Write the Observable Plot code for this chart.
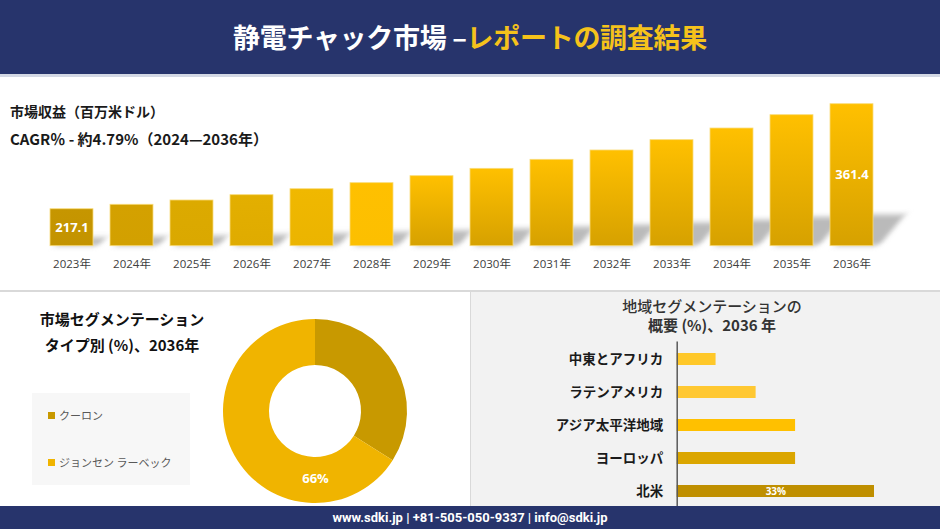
<!DOCTYPE html>
<html><head><meta charset="utf-8">
<script src="https://cdn.jsdelivr.net/npm/d3@7"></script>
<script src="https://cdn.jsdelivr.net/npm/@observablehq/plot@0.6"></script>
<style>
body{margin:0;background:#fff;}
#root{position:relative;width:940px;height:529px;overflow:hidden;font-family:'Noto Sans CJK JP','Noto Sans',sans-serif;background:#fff;}
.abs{position:absolute;}
#header{left:0;top:0;width:940px;height:74px;background:#27346c;border-bottom:3px solid #d3d8e4;}
#title{left:0;top:0;width:940px;height:74px;line-height:74px;text-align:center;font-size:27px;font-weight:700;color:#fff;letter-spacing:-0.3px;}
#title .y{color:#f5c21b;}
.t1{left:10px;top:100px;font-size:14px;font-weight:700;color:#1a1a1a;line-height:22px;white-space:nowrap;}
.t2{left:10px;top:128px;font-size:15px;font-weight:600;color:#1a1a1a;line-height:22px;white-space:nowrap;}
#divider{left:0;top:290px;width:940px;height:2px;background:#d9d9d9;}
#rpanel{left:470px;top:292px;width:470px;height:214px;background:#f2f2f2;border-left:1px solid #d9d9d9;}
.lt{left:0;width:244px;text-align:center;font-size:15px;font-weight:700;color:#111;line-height:22px;white-space:nowrap;}
#legend{left:32px;top:393px;width:158px;height:92px;background:#f7f7f7;}
.li{position:absolute;left:16px;font-size:11px;color:#595959;white-space:nowrap;line-height:14px;}
.li span.sw{display:inline-block;width:7px;height:7px;margin-right:4px;vertical-align:1px;}
.rt{left:470px;width:484px;text-align:center;font-size:15px;color:#333;line-height:20px;white-space:nowrap;}
#footer{left:0;top:506px;width:940px;height:23px;background:#27346c;color:#fff;text-align:center;font-family:'Liberation Sans Narrow','Roboto',sans-serif;font-weight:700;font-size:13px;line-height:23px;}
</style></head>
<body>
<div id="root">
  <div id="header" class="abs"></div>
  <div id="title" class="abs">静電チャック市場 –<span class="y">レポートの調査結果</span></div>
  <div class="abs t1">市場収益（百万米ドル）</div>
  <div class="abs t2">CAGR％ - 約4.79%（2024—2036年）</div>
  <div id="topchart" class="abs" style="left:0;top:80px;"></div>
  <div id="divider" class="abs"></div>
  <div id="rpanel" class="abs"></div>
  <div class="abs lt" style="top:308px;">市場セグメンテーション</div>
  <div class="abs lt" style="top:334px;">タイプ別 (%)、2036年</div>
  <div id="legend" class="abs"></div>
  <div id="donut" class="abs" style="left:215px;top:311px;"></div>
  <div class="abs rt" style="top:296px;font-weight:500;">地域セグメンテーションの</div>
  <div class="abs rt" style="top:315px;font-weight:700;">概要 (%)、2036 年</div>
  <div id="regionchart" class="abs" style="left:470px;top:335px;"></div>
  <div id="footer" class="abs">www.sdki.jp | +81-505-050-9337 | info@sdki.jp</div>
</div>
<script>
// ---- Data ----
const years = ["2023","2024","2025","2026","2027","2028","2029","2030","2031","2032","2033","2034","2035","2036"];
const revenue = [217.1,223.2,229.1,236.4,244.6,252.9,262.5,272.6,285.0,297.8,312.0,328.0,346.3,361.4];
const revenueLabels = ["217.1","","","","","","","","","","","","","361.4"];
const axisMin = 166.3;
const barTopColors = ["#c69600","#d4a100","#dcaa00","#e3af00","#f0b800","#ffc000","#ffc000","#ffc000","#ffc000","#ffc000","#ffc000","#ffc000","#ffc000","#ffc000"];
const barBottomColors = ["#c39300","#d2a000","#daa800","#dfab00","#ebb400","#fcbf00","#d6a100","#d6a100","#d6a100","#d6a100","#d6a100","#d6a100","#d6a100","#d6a100"];

const types = ["クーロン","ジョンセン ラーベック"];
const typeShare = [34, 66];
const typeColors = ["#c89900","#f0b400"];
const typeLabels = ["", "66%"];

const regions = ["中東とアフリカ","ラテンアメリカ","アジア太平洋地域","ヨーロッパ","北米"];
const regionShare = [6.5, 13.2, 19.8, 19.8, 33];
const regionColors = ["#ffc829","#ffc832","#ffc000","#dba600","#bf8f00"];
const regionLabels = ["","","","","33%"];

const FONT = "'Noto Sans CJK JP','Noto Sans',sans-serif";

// ---- Top bar chart ----
const revData = years.map((y,i)=>({year:y, value:revenue[i], label:revenueLabels[i]}));
const topChart = Plot.plot({
  width: 940, height: 200,
  marginLeft: 36, marginRight: 53, marginTop: 23.7, marginBottom: 34.3,
  style: {fontFamily: "'Open Sans','Noto Sans CJK JP',sans-serif", fontSize: "11.5px", color: "#404040", background: "transparent", overflow: "visible"},
  x: {domain: years, paddingInner: 0.29, paddingOuter: 0.145, tickSize: 0, tickPadding: 14, tickFormat: d => d + "年", label: null},
  y: {domain: [axisMin, 361.4], axis: null},
  marks: [
    Plot.barY(revData, {x: "year", y1: axisMin, y2: d => axisMin + (d.value - axisMin) * 0.22, fill: "#8c8c8c", fillOpacity: 0.6}),
    Plot.barY(revData, {x: "year", y1: axisMin, y2: "value", fill: "#ffc000", stroke: "#f9dc7a", strokeWidth: 0.8}),
    Plot.text(revData, {x: "year", y: d => (d.value + axisMin) / 2, text: "label", fill: "#fff", fontWeight: "bold", fontSize: 13, fontFamily: "'Open Sans',sans-serif"})
  ]
});
document.getElementById("topchart").appendChild(topChart);
(function(){
  const svgNode = topChart.tagName.toLowerCase() === "svg" ? topChart : topChart.querySelector("svg");
  const svg = d3.select(svgNode);
  const defs = svg.insert("defs", ":first-child");
  const baseY = 200 - 34.3;
  const barGroups = svg.selectAll('g[aria-label="bar"]').nodes();
  if (barGroups.length >= 2) {
    d3.select(barGroups[0])
      .attr("transform", `translate(6,${baseY}) skewX(-40) translate(0,${-baseY})`)
      .style("filter", "blur(3px)");
    d3.select(barGroups[1]).selectAll("rect").each(function(d, i){
      const id = "bg" + i;
      const g = defs.append("linearGradient").attr("id", id).attr("x1",0).attr("y1",0).attr("x2",0).attr("y2",1);
      g.append("stop").attr("offset","0%").attr("stop-color", barTopColors[i]);
      g.append("stop").attr("offset","100%").attr("stop-color", barBottomColors[i]);
      d3.select(this).attr("fill", `url(#${id})`);
    });
  }
})();

// ---- Donut ----
const typeData = types.map((t,i)=>({type:t, share:typeShare[i], color:typeColors[i], label:typeLabels[i]}));
function donutMark(index, scales, values, dimensions) {
  let cx, cy, r;
  if (scales && typeof scales.x === "function") {
    cx = scales.x(0); cy = scales.y(0); r = Math.abs(scales.x(1) - scales.x(0));
  } else {
    cx = dimensions.width / 2; cy = dimensions.height / 2; r = 92;
  }
  const arcs = d3.pie().sort(null).value(d => d.share)(typeData);
  const arc = d3.arc().innerRadius(r * 0.5).outerRadius(r);
  const g = d3.create("svg:g").attr("transform", `translate(${cx},${cy})`);
  g.selectAll("path").data(arcs).join("path").attr("d", arc).attr("fill", d => d.data.color);
  return g.node();
}
const donut = Plot.plot({
  width: 200, height: 200, margin: 0,
  style: {background: "transparent", overflow: "visible"},
  x: {domain: [-1, 1], range: [8, 192], axis: null},
  y: {domain: [-1, 1], range: [192, 8], axis: null},
  marks: [
    donutMark,
    Plot.text(typeData.filter(d => d.label), {x: () => 0, y: () => -0.73, text: "label", fill: "#fff", fontWeight: "bold", fontSize: 13, fontFamily: "'Open Sans',sans-serif"})
  ]
});
document.getElementById("donut").appendChild(donut);

// legend
const legend = document.getElementById("legend");
types.forEach((t,i)=>{
  const el = document.createElement("div");
  el.className = "li";
  el.style.top = (15 + i * 47) + "px";
  el.innerHTML = `<span class="sw" style="background:${typeColors[i]}"></span>`;
  el.appendChild(document.createTextNode(t));
  legend.appendChild(el);
});

// ---- Region bar chart ----
const regData = regions.map((r,i)=>({region:r, share:regionShare[i], color:regionColors[i], label:regionLabels[i]}));
const reg = Plot.plot({
  width: 470, height: 175,
  marginLeft: 206.7, marginRight: 66, marginTop: 6.6, marginBottom: 1.6,
  style: {fontFamily: FONT, fontSize: "13.5px", fontWeight: "bold", color: "#1a1a1a", background: "transparent", overflow: "visible"},
  x: {domain: [0, 33], axis: null},
  y: {domain: regions, paddingInner: 0.63, paddingOuter: 0.315, tickSize: 0, tickPadding: 14, label: null},
  marks: [
    Plot.barX(regData, {x: "share", y: "region", fill: "color"}),
    Plot.ruleX([0], {stroke: "#595959", strokeWidth: 1.5}),
    Plot.text(regData, {x: d => d.share / 2, y: "region", text: "label", fill: "#fff", fontWeight: "bold", fontSize: 10, fontFamily: "'Open Sans',sans-serif"})
  ]
});
document.getElementById("regionchart").appendChild(reg);
</script>
</body></html>
